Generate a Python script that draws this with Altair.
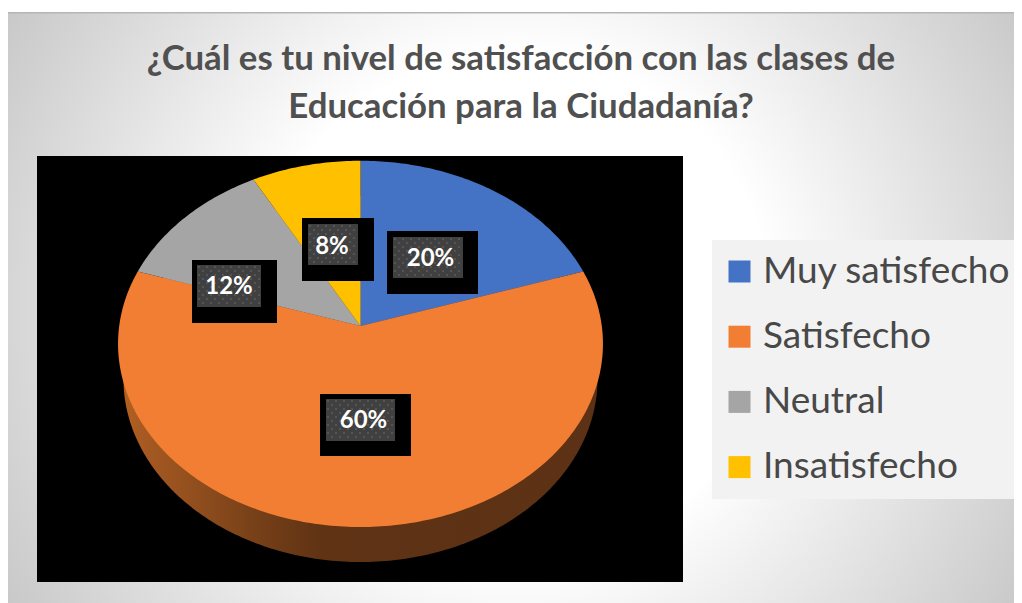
import math
import altair as alt
import pandas as pd

categories = ["Muy satisfecho", "Satisfecho", "Neutral", "Insatisfecho"]
shares = [20, 60, 12, 8]
colors = ["#4472C4", "#F17E32", "#A5A5A5", "#FFC000"]
title_lines = ["¿Cuál es tu nivel de satisfacción con las clases de",
               "Educación para la Ciudadanía?"]

W, H = 1006, 595
OX, OY = 8, 8  # page margin; layout below is in page pixels

# pie projection (circle seen in perspective)
APEX = (360.5, 326.0)
A, B, K = 241.3, 181.4, 0.0975


def project(phi):
    u, v = math.sin(phi), math.cos(phi)
    d = 1 + K * v
    return [APEX[0] + A * u / d - OX, APEX[1] - B * v / d - OY]


def feature(ring, name=None):
    return {"type": "Feature", "properties": {"category": name},
            "geometry": {"type": "Polygon", "coordinates": [ring]}}


wedges = []
start = 0.0
for name, share in zip(categories, shares):
    end = start + share
    steps = max(2, int(share * 4))
    arc = [project(2 * math.pi * (start + (end - start) * i / steps) / 100)
           for i in range(steps + 1)]
    apex = [APEX[0] - OX, APEX[1] - OY]
    wedges.append(feature([apex] + arc + [apex], name))
    start = end

wall_ring = [[360.5 + 237 * math.cos(math.radians(a)) - OX,
              379 + 183 * math.sin(math.radians(a)) - OY] for a in range(0, 361, 1)]
wall = [feature(wall_ring, "wall")]

PROJ = dict(type="identity", scale=1, translate=[0, 0])
NX = alt.X("x:Q", scale=None, axis=None)
NY = alt.Y("y:Q", scale=None, axis=None)
NX2 = alt.X2("x2:Q")
NY2 = alt.Y2("y2:Q")


def rect_layer(rows, **kw):
    df = pd.DataFrame(rows, columns=["x", "x2", "y", "y2"])
    df[["x", "x2"]] -= OX
    df[["y", "y2"]] -= OY
    return alt.Chart(df).mark_rect(**kw).encode(x=NX, x2=NX2, y=NY, y2=NY2)


# taller than the page so that the radial gradient is nearly circular
background = rect_layer([[8, 1014, -260, 876]], fill=alt.Gradient(
    gradient="radial", x1=0.504, y1=0.5, r1=0, x2=0.504, y2=0.5, r2=0.6,
    stops=[alt.GradientStop(offset=0.0, color="#ffffff"),
           alt.GradientStop(offset=0.373, color="#ffffff"),
           alt.GradientStop(offset=1.0, color="#b9b9b9")]))
top_band = rect_layer([[8, 1014, 0, 12]], fill="#ffffff")
top_line = rect_layer([[8, 1014, 12, 13.5]], fill="#b5b5b5")
plot_bg = rect_layer([[37, 683, 156, 582]], fill="#000000")

wall_layer = alt.Chart(alt.Data(values=wall)).mark_geoshape(
    strokeWidth=0,
    fill=alt.Gradient(gradient="linear", x1=0, y1=0, x2=1, y2=0, stops=[
        alt.GradientStop(offset=0.0, color="#b4611f"),
        alt.GradientStop(offset=0.036, color="#a85a22"),
        alt.GradientStop(offset=0.135, color="#94501e"),
        alt.GradientStop(offset=0.295, color="#743e18"),
        alt.GradientStop(offset=0.42, color="#5f3314"),
        alt.GradientStop(offset=1.0, color="#5c3115")])
).project(**PROJ)

wedge_layer = alt.Chart(alt.Data(values=wedges)).mark_geoshape(
    strokeWidth=0
).encode(
    color=alt.Color("properties.category:N",
                    scale=alt.Scale(domain=categories, range=colors),
                    sort=categories,
                    legend=alt.Legend(
                        orient="none", legendX=704, legendY=232, title=None,
                        symbolType="square", symbolSize=484, symbolStrokeWidth=0,
                        symbolOffset=-4,
                        labelFont="Lato", labelFontSize=37, labelColor="#484848",
                        fillColor="#f2f2f2", padding=13, rowPadding=27.2,
                        symbolOpacity=1, labelOffset=5, labelLimit=400))
).project(**PROJ)

# data-label boxes: outer x0,x1,y0,y1 / inner x0,x1,y0,y1 / text centre
outer = [[387, 478, 231, 294], [320, 411, 394, 456], [192, 277, 260, 323], [302, 374, 218, 281]]
inner = [[393, 463, 237, 278], [326, 395, 399, 441], [197, 261, 265, 307], [308, 358, 224, 265]]
label_x = [430.5, 363.5, 229, 332]
label_y = [258.5, 420.5, 286, 246]
outer_layer = rect_layer(outer, fill="#000000")
inner_layer = rect_layer(inner, fill="#404040")

dots = []
for x0, x1, y0, y1 in inner:
    row = 0
    y = y0 + 2
    while y < y1:
        x = x0 + 2 + (4 if row % 2 else 0)
        while x < x1:
            dots.append({"x": x - OX, "y": y - OY})
            x += 8
        y += 4
        row += 1
dot_layer = alt.Chart(pd.DataFrame(dots)).mark_circle(
    size=4, color="#5c5c5c", opacity=1, strokeWidth=0).encode(x=NX, y=NY)

labels = pd.DataFrame({
    "t": [f"{s}%" for s in shares],
    "x": [v - OX for v in label_x],
    "y": [v - OY + 0.5 for v in label_y],
})
label_layer = alt.Chart(labels).mark_text(
    font="Lato", fontWeight="bold", fontSize=24, color="#ffffff", baseline="middle"
).encode(x=NX, y=NY, text="t:N")

title_df = pd.DataFrame({"t": title_lines, "x": [521 - OX] * 2, "y": [70 - OY, 118 - OY]})
title_layer = alt.Chart(title_df).mark_text(
    font="Lato", fontWeight="bold", fontSize=34.8, color="#505050", baseline="alphabetic"
).encode(x=NX, y=NY, text="t:N")

chart = alt.layer(background, top_band, top_line, plot_bg, wall_layer, wedge_layer,
                  outer_layer, inner_layer, dot_layer, label_layer, title_layer
).properties(width=W, height=H, padding=0, autosize=alt.AutoSizeParams(type="none"),
             background="#ffffff"
).configure_view(stroke=None)

chart.save("out.html", embed_options={"renderer": "svg", "actions": False})
